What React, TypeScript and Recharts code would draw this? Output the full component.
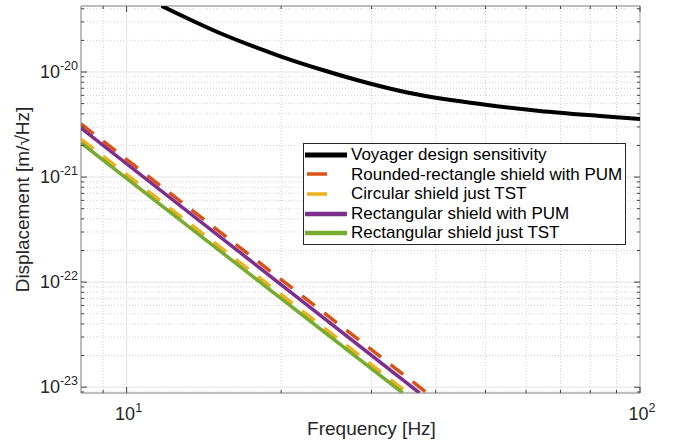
import React from 'react';
import { LineChart, Line, XAxis, YAxis, ReferenceLine, ReferenceArea, Legend } from 'recharts';

const FONT = '"Liberation Sans", Arial, Helvetica, sans-serif';

// black reference curve
const voyagerFreq = [11.7, 15.18, 19.87, 24.1, 29.5, 35.6, 48.8, 63.8, 83.6, 100];
const voyagerDisp = [4.25e-20, 2.35e-20, 1.42e-20, 1.045e-20, 7.86e-21, 6.31e-21, 4.96e-21, 4.25e-21, 3.81e-21, 3.57e-21];

// straight power-law lines (start at left edge, end at bottom edge)
const roundedFreq = [8.15, 38.5];
const roundedDisp = [3.2e-21, 8.8e-24];
const circularFreq = [8.15, 35.3];
const circularDisp = [2.3e-21, 8.8e-24];
const rectPumFreq = [8.15, 37.2];
const rectPumDisp = [2.93e-21, 8.8e-24];
const rectTstFreq = [8.15, 34.5];
const rectTstDisp = [2.11e-21, 8.8e-24];

const xMajor = [10, 100];
const xMinor = [9, 20, 30, 40, 50, 60, 70, 80, 90];
const yMajor = [1e-23, 1e-22, 1e-21, 1e-20];
const yMinor = [
  9e-24,
  2e-23, 3e-23, 4e-23, 5e-23, 6e-23, 7e-23, 8e-23, 9e-23,
  2e-22, 3e-22, 4e-22, 5e-22, 6e-22, 7e-22, 8e-22, 9e-22,
  2e-21, 3e-21, 4e-21, 5e-21, 6e-21, 7e-21, 8e-21, 9e-21,
  2e-20, 3e-20, 4e-20,
];

const xDomain = [8.15, 100];
const yDomain = [8.8e-24, 4.25e-20];

const toRows = (freq: number[], disp: number[]) => freq.map((f, i) => ({ f, v: disp[i] }));

const seriesList = [
  { name: 'Voyager design sensitivity', color: '#000000', width: 4, dash: '', type: 'monotone', rows: toRows(voyagerFreq, voyagerDisp) },
  { name: 'Rounded-rectangle shield with PUM', color: '#D95319', width: 3.5, dash: '16 12', type: 'linear', rows: toRows(roundedFreq, roundedDisp) },
  { name: 'Circular shield just TST', color: '#EDB120', width: 3.5, dash: '16 12', type: 'linear', rows: toRows(circularFreq, circularDisp) },
  { name: 'Rectangular shield with PUM', color: '#7E2F8E', width: 3.5, dash: '', type: 'linear', rows: toRows(rectPumFreq, rectPumDisp) },
  { name: 'Rectangular shield just TST', color: '#77AC30', width: 3.5, dash: '', type: 'linear', rows: toRows(rectTstFreq, rectTstDisp) },
];

const W = 675;
const H = 444;
const M = { top: 6, right: 35, left: 0, bottom: 0 };
const Y_AXIS_W = 81;
const X_AXIS_H = 51;
const PLOT_TOP = M.top;
const PLOT_RIGHT = W - M.right;

const isMajor = (v: number) => {
  const l = Math.log10(v);
  return Math.abs(l - Math.round(l)) < 1e-6;
};

const XTick = (props: any) => {
  const { x, y, payload } = props;
  const v = payload.value;
  const major = isMajor(v);
  const len = major ? 6 : 3;
  return (
    <g>
      <line x1={x} y1={y} x2={x} y2={y - len} stroke="#404040" />
      <line x1={x} y1={PLOT_TOP} x2={x} y2={PLOT_TOP + len} stroke="#404040" />
      {major && (
        <text x={x + 2} y={y + 27} textAnchor="middle" fontSize={18} fontFamily={FONT} fill="#262626">
          <tspan>10</tspan>
          <tspan dy={-8} fontSize={12.5}>{Math.round(Math.log10(v))}</tspan>
        </text>
      )}
    </g>
  );
};

const YTick = (props: any) => {
  const { x, y, payload } = props;
  const v = payload.value;
  const major = isMajor(v);
  const len = major ? 6 : 3;
  return (
    <g>
      <line x1={x} y1={y} x2={x + len} y2={y} stroke="#404040" />
      <line x1={PLOT_RIGHT} y1={y} x2={PLOT_RIGHT - len} y2={y} stroke="#404040" />
      {major && (
        <text x={x - 3} y={y + 6} textAnchor="end" fontSize={18} fontFamily={FONT} fill="#262626">
          <tspan>10</tspan>
          <tspan dy={-8} fontSize={12.5}>{Math.round(Math.log10(v))}</tspan>
        </text>
      )}
    </g>
  );
};

const LegendBox = () => (
  <div
    style={{
      border: '1px solid #262626',
      background: '#fff',
      width: 321,
      padding: '1px 0',
      fontFamily: FONT,
      fontSize: 17,
      color: '#000',
      lineHeight: '19.6px',
    }}
  >
    {seriesList.map((s) => (
      <div key={s.name} style={{ display: 'flex', alignItems: 'center', height: 19.6, whiteSpace: 'nowrap' }}>
        <svg width={47} height={10} style={{ flex: 'none' }}>
          <line
            x1={s.dash ? 3 : 1}
            y1={5}
            x2={43}
            y2={5}
            stroke={s.color}
            strokeWidth={s.dash ? s.width : s.width + 0.8}
            strokeDasharray={s.dash ? '20 40' : undefined}
          />
        </svg>
        <span>{s.name}</span>
      </div>
    ))}
  </div>
);

export default function App() {
  return (
    <div style={{ position: 'absolute', left: 0, top: 0, background: '#fff' }}>
      <LineChart width={W} height={H} margin={M}>
        <XAxis
          dataKey="f"
          type="number"
          scale="log"
          domain={xDomain}
          allowDataOverflow
          ticks={[...xMinor, ...xMajor].sort((a, b) => a - b)}
          interval={0}
          height={X_AXIS_H}
          axisLine={false}
          tickLine={false}
          tickSize={0}
          tickMargin={0}
          tick={<XTick />}
          label={{
            value: 'Frequency [Hz]',
            position: 'insideBottom',
            offset: 9,
            dx: 11,
            style: { fontSize: 19, fontFamily: FONT, fill: '#262626' },
          }}
        />
        <YAxis
          type="number"
          scale="log"
          domain={yDomain}
          allowDataOverflow
          ticks={[...yMinor, ...yMajor].sort((a, b) => a - b)}
          interval={0}
          width={Y_AXIS_W}
          axisLine={false}
          tickLine={false}
          tickSize={0}
          tickMargin={0}
          tick={<YTick />}
          label={{
            value: 'Displacement [m/\u221AHz]',
            angle: -90,
            position: 'insideLeft',
            offset: 22,
            style: { fontSize: 19, fontFamily: FONT, fill: '#262626', textAnchor: 'middle' },
          }}
        />
        {xMinor.map((v) => (
          <ReferenceLine key={'xm' + v} x={v} stroke="#cfcfcf" strokeDasharray="1 2" />
        ))}
        {yMinor.map((v) => (
          <ReferenceLine key={'ym' + v} y={v} stroke="#cfcfcf" strokeDasharray="1 2" />
        ))}
        {xMajor.map((v) => (
          <ReferenceLine key={'xM' + v} x={v} stroke="#e3e3e3" />
        ))}
        {yMajor.map((v) => (
          <ReferenceLine key={'yM' + v} y={v} stroke="#e3e3e3" />
        ))}
        <ReferenceArea x1={xDomain[0]} x2={xDomain[1]} y1={yDomain[0]} y2={yDomain[1]} stroke="#7a7a7a" fill="none" />
        {seriesList.map((s) => (
          <Line
            key={s.name}
            data={s.rows}
            dataKey="v"
            name={s.name}
            type={s.type as any}
            stroke={s.color}
            strokeWidth={s.width}
            strokeDasharray={s.dash || undefined}
            dot={false}
            activeDot={false}
            isAnimationActive={false}
          />
        ))}
        <Legend
          layout="vertical"
          align="center"
          verticalAlign="middle"
          content={<LegendBox />}
          wrapperStyle={{ left: 303, top: 143, width: 323 }}
        />
      </LineChart>
    </div>
  );
}
